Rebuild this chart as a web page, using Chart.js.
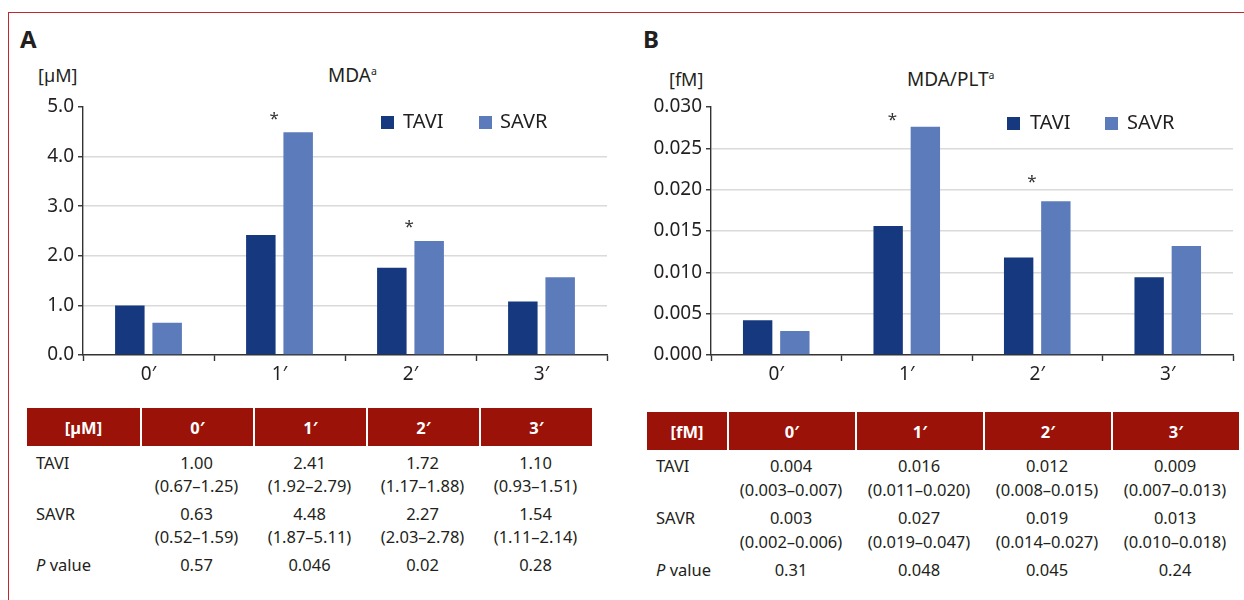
<!DOCTYPE html>
<html>
<head>
<meta charset="utf-8">
<script src="https://cdn.jsdelivr.net/npm/chart.js@4.4.0/dist/chart.umd.min.js"></script>
<style>
body { margin:0; width:1244px; height:600px; overflow:hidden; background:#fff; font-family:"Noto Sans", sans-serif; color:#231f20; position:relative; }
.frame { position:absolute; left:8px; top:12px; width:1300px; height:700px; border:1.5px solid #c0282d; box-sizing:border-box; }
.abs { position:absolute; white-space:nowrap; line-height:1; }
.letter { font-weight:bold; font-size:24px; }
.unit { font-size:18px; }
.title { font-size:19px; }
.title sup { font-size:10.5px; vertical-align:7px; line-height:0; }
.legend { position:absolute; font-size:20px; line-height:1; white-space:nowrap; }
.legend span.sw { position:absolute; width:13px; height:13px; }
.legend span.tx { position:absolute; }
.box { position:absolute; }
table { position:absolute; border-collapse:separate; border-spacing:0; font-size:16.5px; table-layout:fixed; }
th { background:#9b1208; color:#fff; font-weight:bold; height:38px; padding:0; border-left:2px solid #fff; text-align:center; }
th:first-child { border-left:none; }
td { text-align:center; vertical-align:top; padding:5px 0 0 0; line-height:23px; white-space:nowrap; }
td:first-child { text-align:left; padding-left:9px; }
table.b td { padding-top:4px; line-height:24px; }
</style>
</head>
<body>
<div class="frame"></div>

<div class="abs letter" style="left:20px; top:27px;">A</div>
<div class="abs unit" style="left:38px; top:66px;">[µM]</div>
<div class="abs title" style="left:328px; top:66px;">MDA<sup>a</sup></div>
<div class="box" style="left:0px; top:90px; width:620px; height:300px;"><canvas id="chartA" width="620" height="300"></canvas></div>
<div class="legend" style="left:381px; top:113px;">
  <span class="sw" style="left:0; top:3px; background:#15387f;"></span><span class="tx" style="left:22px; top:-2px;">TAVI</span>
  <span class="sw" style="left:98px; top:3px; background:#5c7bbb;"></span><span class="tx" style="left:119px; top:-2px;">SAVR</span>
</div>
<table id="tableA" style="left:27px; top:408px;"></table>

<div class="abs letter" style="left:643px; top:27px;">B</div>
<div class="abs unit" style="left:669px; top:70px;">[fM]</div>
<div class="abs title" style="left:907px; top:70px;">MDA/PLT<sup>a</sup></div>
<div class="box" style="left:620px; top:90px; width:624px; height:300px;"><canvas id="chartB" width="624" height="300"></canvas></div>
<div class="legend" style="left:1007px; top:114px;">
  <span class="sw" style="left:0; top:3px; background:#15387f;"></span><span class="tx" style="left:23px; top:-2px;">TAVI</span>
  <span class="sw" style="left:98px; top:3px; background:#5c7bbb;"></span><span class="tx" style="left:120px; top:-2px;">SAVR</span>
</div>
<table id="tableB" class="b" style="left:647px; top:412px;"></table>

<script>
// categories (time points)
var categories = ['0\u2032', '1\u2032', '2\u2032', '3\u2032'];

// panel A - MDA [µM], bar heights
var mdaTavi = [1.00, 2.42, 1.76, 1.08];
var mdaSavr = [0.65, 4.49, 2.30, 1.57];
// asterisks: level in axis units and position in category units
var mdaStarLevel = [null, 4.8, 2.62, null];
var mdaStarAt = [null, 0.96, 1.99, null];

// panel B - MDA/PLT [fM]
var pltTavi = [0.0042, 0.0156, 0.0118, 0.0094];
var pltSavr = [0.0029, 0.0276, 0.0186, 0.0132];
var pltStarLevel = [null, 0.0287, 0.0212, null];
var pltStarAt = [null, 0.89, 1.96, null];

// tables under the charts
var tabMdaTavi = ['1.00', '2.41', '1.72', '1.10'];
var tabMdaTaviRange = ['0.67\u20131.25', '1.92\u20132.79', '1.17\u20131.88', '0.93\u20131.51'];
var tabMdaSavr = ['0.63', '4.48', '2.27', '1.54'];
var tabMdaSavrRange = ['0.52\u20131.59', '1.87\u20135.11', '2.03\u20132.78', '1.11\u20132.14'];
var tabMdaP = ['0.57', '0.046', '0.02', '0.28'];

var tabPltTavi = ['0.004', '0.016', '0.012', '0.009'];
var tabPltTaviRange = ['0.003\u20130.007', '0.011\u20130.020', '0.008\u20130.015', '0.007\u20130.013'];
var tabPltSavr = ['0.003', '0.027', '0.019', '0.013'];
var tabPltSavrRange = ['0.002\u20130.006', '0.019\u20130.047', '0.014\u20130.027', '0.010\u20130.018'];
var tabPltP = ['0.31', '0.048', '0.045', '0.24'];

var TAVI_COLOR = '#15387f';
var SAVR_COLOR = '#5c7bbb';
var AXIS_COLOR = '#333';
var FONT = '"Noto Sans", sans-serif';

// draws the significance asterisks above a category
var starPlugin = {
    id: 'stars',
    afterDatasetsDraw: function (chart, args, opts) {
        var ctx = chart.ctx, xs = chart.scales.x, ys = chart.scales.y;
        var step = xs.getPixelForValue(1) - xs.getPixelForValue(0);
        ctx.save();
        ctx.font = '17px ' + FONT;
        ctx.fillStyle = '#333';
        ctx.textAlign = 'center';
        ctx.textBaseline = 'middle';
        opts.levels.forEach(function (lv, i) {
            if (lv == null) return;
            var x = xs.getPixelForValue(0) + opts.at[i] * step;
            ctx.fillText('*', x, ys.getPixelForValue(lv) + 2);
        });
        ctx.restore();
    }
};

function makeChart(id, tavi, savr, starLevel, starAt, max, step, digits, yWidth, padRight) {
    return new Chart(document.getElementById(id), {
        type: 'bar',
        data: {
            labels: categories,
            datasets: [
                { label: 'TAVI', data: tavi, backgroundColor: TAVI_COLOR },
                { label: 'SAVR', data: savr, backgroundColor: SAVR_COLOR }
            ]
        },
        options: {
            responsive: false,
            animation: false,
            categoryPercentage: 0.57,
            barPercentage: 0.79,
            layout: { padding: { top: 17, right: padRight, left: 0, bottom: 0 } },
            plugins: {
                legend: { display: false },
                tooltip: { enabled: false },
                stars: { levels: starLevel, at: starAt }
            },
            scales: {
                x: {
                    grid: { offset: true, drawOnChartArea: false, tickLength: 6, tickColor: AXIS_COLOR, tickWidth: 1.4 },
                    border: { color: AXIS_COLOR, width: 1.4 },
                    ticks: { color: '#231f20', font: { family: FONT, size: 19 }, padding: 2 },
                    afterFit: function (s) { s.height = 35; }
                },
                y: {
                    min: 0,
                    max: max,
                    grid: {
                        color: function (c) {
                            return (c.index === 0 || c.tick.value >= max - step / 10) ? 'rgba(0,0,0,0)' : '#dadada';
                        },
                        lineWidth: 1.5,
                        tickLength: 5,
                        tickColor: AXIS_COLOR,
                        tickWidth: 1.4
                    },
                    border: { color: AXIS_COLOR, width: 1.4 },
                    ticks: {
                        stepSize: step,
                        color: '#231f20',
                        font: { family: FONT, size: 19 },
                        padding: 4,
                        callback: function (v) { return Number(v).toFixed(digits); }
                    },
                    afterFit: function (s) { s.width = yWidth; }
                }
            }
        },
        plugins: [starPlugin]
    });
}

function fillTable(id, unit, widths, tavi, taviRange, savr, savrRange, p) {
    var t = document.getElementById(id);
    var html = '<colgroup>';
    widths.forEach(function (w) { html += '<col style="width:' + w + 'px">'; });
    html += '</colgroup><tr><th>' + unit + '</th>';
    categories.forEach(function (c) { html += '<th>' + c + '</th>'; });
    html += '</tr><tr><td>TAVI</td>';
    tavi.forEach(function (v, i) { html += '<td>' + v + '<br>(' + taviRange[i] + ')</td>'; });
    html += '</tr><tr><td>SAVR</td>';
    savr.forEach(function (v, i) { html += '<td>' + v + '<br>(' + savrRange[i] + ')</td>'; });
    html += '</tr><tr><td><i>P</i> value</td>';
    p.forEach(function (v) { html += '<td>' + v + '</td>'; });
    html += '</tr>';
    t.innerHTML = html;
    t.style.width = widths.reduce(function (a, b) { return a + b; }, 0) + 'px';
}

makeChart('chartA', mdaTavi, mdaSavr, mdaStarLevel, mdaStarAt, 5, 1, 1, 83, 13);
makeChart('chartB', pltTavi, pltSavr, pltStarLevel, pltStarAt, 0.03, 0.005, 3, 91, 11);

fillTable('tableA', '[µM]', [113, 113, 113, 113, 113], tabMdaTavi, tabMdaTaviRange, tabMdaSavr, tabMdaSavrRange, tabMdaP);
fillTable('tableB', '[fM]', [80, 128, 128, 128, 128], tabPltTavi, tabPltTaviRange, tabPltSavr, tabPltSavrRange, tabPltP);
</script>
</body>
</html>
